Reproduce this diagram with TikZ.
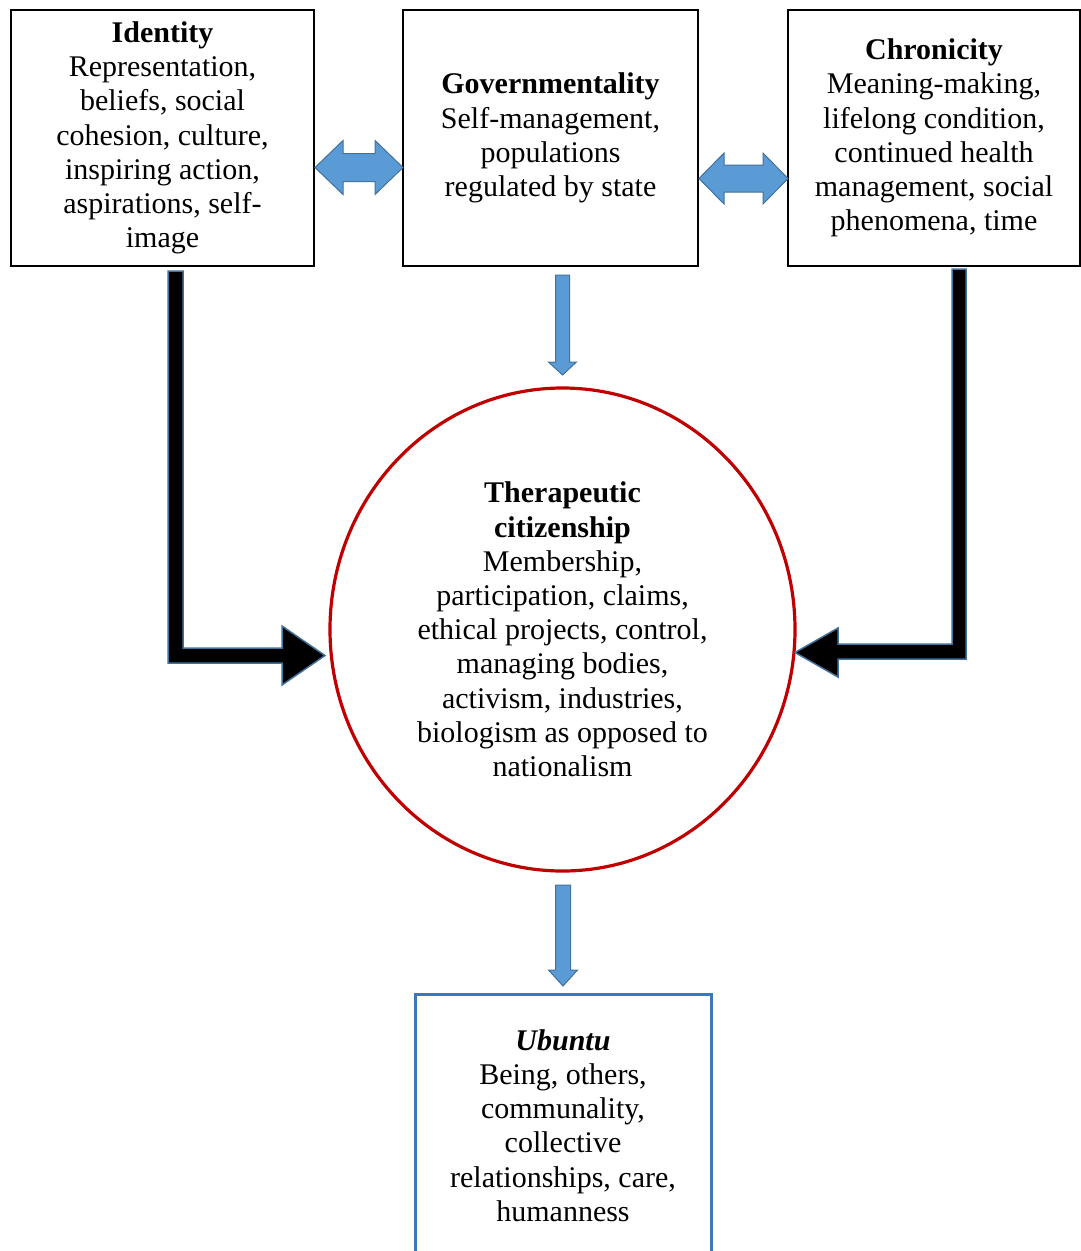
\documentclass[tikz,border=0pt]{standalone}
\usepackage{fontspec}
\setmainfont{Liberation Serif}
\usetikzlibrary{shapes.geometric}
\definecolor{arrowfill}{HTML}{5B9BD5}
\definecolor{arrowline}{HTML}{41719C}
\definecolor{ringred}{HTML}{C00000}
\definecolor{ubuntublue}{HTML}{3B78B8}

\begin{document}
\begin{tikzpicture}[x=1pt,y=-1pt,
  txt/.style={align=center, font=\fontsize{30}{34.2}\selectfont, inner sep=0pt},
  conceptbox/.style={txt, rectangle, draw=black, line width=2pt},
  ring/.style={txt, ellipse, draw=ringred, line width=3.2pt},
  bluearrow/.style={fill=arrowfill, draw=arrowline, line width=1pt, line join=miter},
  blackarrow/.style={fill=black, draw=arrowline, line width=1.5pt, line join=miter}]
\useasboundingbox (0,0) rectangle (1081,1251);

% concept boxes
\node[conceptbox, minimum width=303pt, minimum height=256pt] (id) at (162.5,138)
  {\textbf{Identity}\\Representation,\\beliefs, social\\cohesion, culture,\\inspiring action,\\aspirations, self-\\image};
\node[conceptbox, minimum width=295pt, minimum height=256pt] (gov) at (550.5,138)
  {\textbf{Governmentality}\\Self-management,\\populations\\regulated by state};
\node[conceptbox, minimum width=292pt, minimum height=256pt] (ch) at (934,138)
  {\textbf{Chronicity}\\Meaning-making,\\lifelong condition,\\continued health\\management, social\\phenomena, time};

% central circle
\node[ring, minimum width=465pt, minimum height=483pt] (circ) at (562.5,629.5)
  {\textbf{Therapeutic}\\\textbf{citizenship}\\Membership,\\participation, claims,\\ethical projects, control,\\managing bodies,\\activism, industries,\\biologism as opposed to\\nationalism};

% outcome box
\node[txt, rectangle, draw=ubuntublue, line width=3pt, minimum width=296pt, minimum height=263pt] (ub) at (563,1125.5)
  {\textbf{\textit{Ubuntu}}\\Being, others,\\communality,\\collective\\relationships, care,\\humanness};

% two-way arrows between the top boxes
\coordinate (dblA) at (id.east |- 0,167.5);
\draw[bluearrow] (dblA) -- ++(28,-27) -- ++(0,13) -- ++(32,0) -- ++(0,-13) -- ++(28,27)
  -- ++(-28,27) -- ++(0,-13) -- ++(-32,0) -- ++(0,13) -- cycle;
\coordinate (dblB) at (gov.east |- 0,178.5);
\draw[bluearrow] (dblB) -- ++(25,-25.5) -- ++(0,12) -- ++(39,0) -- ++(0,-12) -- ++(25,25.5)
  -- ++(-25,25.5) -- ++(0,-12) -- ++(-39,0) -- ++(0,12) -- cycle;

% governmentality down to the circle
\coordinate (gdown) at (circ.north |- 0,275);
\draw[bluearrow] (gdown) ++(-7,0) -- ++(14,0) -- ++(0,87) -- ++(7,0) -- ++(-14,13)
  -- ++(-14,-13) -- ++(7,0) -- cycle;

% circle down to ubuntu
\coordinate (cdown) at (ub.north |- 0,885);
\draw[bluearrow] (cdown) ++(-7.5,0) -- ++(15,0) -- ++(0,85) -- ++(7,0) -- ++(-14.5,16)
  -- ++(-14.5,-16) -- ++(7,0) -- cycle;

% identity into the circle
\path (id.south -| 175.5,0) ++(0,4) coordinate (idL);
\draw[blackarrow] (idL) ++(-7.5,0) -- ++(15,0) -- ++(0,377) -- ++(99,0) -- ++(0,-22)
  -- ++(43,29.5) -- ++(-43,29.5) -- ++(0,-22) -- ++(-114,0) -- cycle;

% chronicity into the circle
\path (ch.south -| 959,0) ++(0,2) coordinate (chL);
\draw[blackarrow] (chL) ++(7,0) -- ++(-14,0) -- ++(0,375) -- ++(-114,0) -- ++(0,-16)
  -- ++(-43,24.5) -- ++(43,24.5) -- ++(0,-18) -- ++(128,0) -- cycle;
\end{tikzpicture}
\end{document}
